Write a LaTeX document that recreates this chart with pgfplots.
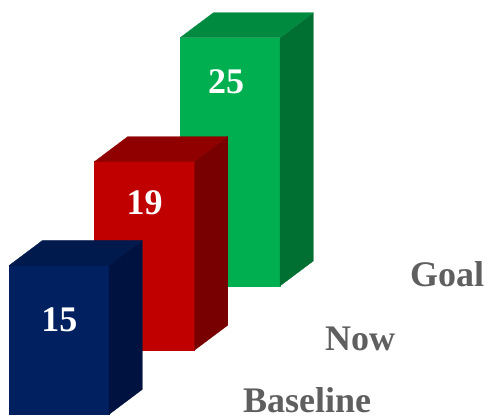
\documentclass[border=0pt]{standalone}
\usepackage{fontspec}
\setmainfont{Liberation Serif}
\usepackage{pgfplots}
\pgfplotsset{compat=1.18}
\definecolor{blueF}{HTML}{002060}
\definecolor{blueT}{HTML}{001A4D}
\definecolor{blueS}{HTML}{001340}
\definecolor{redF}{HTML}{C00000}
\definecolor{redT}{HTML}{900000}
\definecolor{redS}{HTML}{780000}
\definecolor{greenF}{HTML}{00B050}
\definecolor{greenT}{HTML}{008A3F}
\definecolor{greenS}{HTML}{006F32}
\definecolor{labelgrey}{HTML}{5F5F5F}
\pgfplotsset{face/.style={draw=#1,line width=0.2pt,fill=#1,no marks,forget plot}}
\tikzset{lbl/.style={font=\fontsize{36}{36}\selectfont\bfseries, inner sep=0pt}}
\begin{document}
\begin{tikzpicture}
\useasboundingbox (0,0) rectangle (488pt,417pt);
\begin{axis}[
  at={(0pt,2.5pt)}, anchor=origin,
  x={(1pt,0pt)}, y={(85.5pt,64.25pt)}, z={(0pt,9.93pt)},
  xmin=0, xmax=300, ymin=0, ymax=2.4, zmin=0, zmax=26,
  hide axis, clip=false,
]
% Goal (back): value 25
\addplot3[face=greenF] coordinates {(9,2,0) (109,2,0) (109,2,25) (9,2,25) (9,2,0)};
\addplot3[face=greenS] coordinates {(109,2,0) (109,2.39,0) (109,2.39,25) (109,2,25) (109,2,0)};
\addplot3[face=greenT] coordinates {(9,2,25) (109,2,25) (109,2.39,25) (9,2.39,25) (9,2,25)};
% Now (middle): value 19
\addplot3[face=redF] coordinates {(9,1,0) (109,1,0) (109,1,19) (9,1,19) (9,1,0)};
\addplot3[face=redS] coordinates {(109,1,0) (109,1.39,0) (109,1.39,19) (109,1,19) (109,1,0)};
\addplot3[face=redT] coordinates {(9,1,19) (109,1,19) (109,1.39,19) (9,1.39,19) (9,1,19)};
% Baseline (front): value 15
\addplot3[face=blueF] coordinates {(9,0,0) (109,0,0) (109,0,15) (9,0,15) (9,0,0)};
\addplot3[face=blueS] coordinates {(109,0,0) (109,0.39,0) (109,0.39,15) (109,0,15) (109,0,0)};
\addplot3[face=blueT] coordinates {(9,0,15) (109,0,15) (109,0.39,15) (9,0.39,15) (9,0,15)};
% Value labels on the front faces
\node[lbl,white,anchor=base] at (axis cs:59.5,0,8.4) {15};
\node[lbl,white,anchor=base] at (axis cs:59,1,13.7) {19};
\node[lbl,white,anchor=base] at (axis cs:55,2,19.4) {25};
% Category names along the depth direction
\node[lbl,labelgrey,anchor=base west] at (axis cs:243,0,0.16) {Baseline};
\node[lbl,labelgrey,anchor=base west] at (axis cs:239.5,1,0) {Now};
\node[lbl,labelgrey,anchor=base west] at (axis cs:239,2,-0.1) {Goal};
\end{axis}
\end{tikzpicture}
\end{document}
